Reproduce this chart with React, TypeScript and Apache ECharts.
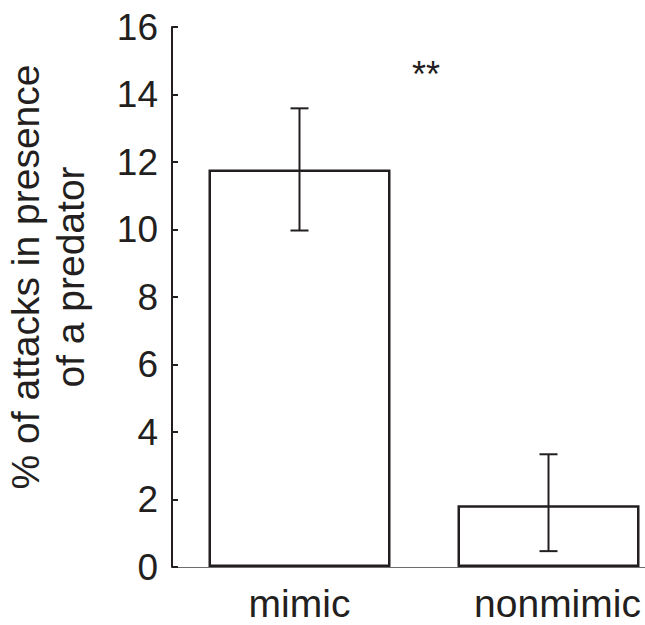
import React, { useEffect, useRef } from "react";
import * as echarts from "echarts";

const categories = ["mimic", "nonmimic"];
const meanValues = [11.78, 1.83];
const errLow = [9.97, 0.47];
const errHigh = [13.59, 3.34];
const yTicks = { min: 0, max: 16, interval: 2 };
const yTitle = "% of attacks in presence\nof a predator";
const significance = "**";

const INK = "#231f20";
const FONT = "'Liberation Sans', Arial, Helvetica, sans-serif";

export default function App() {
  const ref = useRef<HTMLDivElement>(null);
  useEffect(() => {
    document.body.style.margin = "0";
    if (!ref.current) return;
    const chart = echarts.init(ref.current, undefined, { renderer: "svg" });
    chart.setOption({
      animation: false,
      backgroundColor: "#ffffff",
      textStyle: { fontFamily: FONT },
      grid: {
        left: 175,
        width: 498,
        top: 27,
        height: 540,
        outerBoundsMode: "none",
        containLabel: false,
      },
      xAxis: {
        type: "category",
        data: categories.map((c, i) =>
          i === 1 ? { value: c, textStyle: { padding: [0, 0, 0, 18] } } : c
        ),
        axisLine: { lineStyle: { color: "#6d6d6d", width: 1 } },
        axisTick: {
          inside: true,
          alignWithLabel: true,
          length: 7,
          lineStyle: { color: "#6d6d6d", width: 1.5 },
        },
        axisLabel: {
          color: INK,
          fontSize: 39,
          fontFamily: FONT,
          margin: 21,
          lineHeight: 30,
        },
      },
      yAxis: {
        type: "value",
        min: yTicks.min,
        max: yTicks.max,
        interval: yTicks.interval,
        offset: 3,
        splitLine: { show: false },
        axisLine: { show: true, lineStyle: { color: INK, width: 2 } },
        axisTick: { show: true, inside: true, length: 6, lineStyle: { color: INK, width: 2 } },
        axisLabel: {
          color: INK,
          fontSize: 37,
          fontFamily: FONT,
          margin: 14,
          padding: [0, 0, 8, 0],
        },
        name: yTitle,
        nameLocation: "middle",
        nameRotate: 90,
        nameGap: 79,
        nameTextStyle: {
          color: INK,
          fontSize: 39,
          fontFamily: FONT,
          lineHeight: 45,
          padding: [0, 0, 0, 40],
        },
      },
      series: [
        {
          type: "bar",
          data: meanValues,
          barWidth: 182,
          itemStyle: { color: "#ffffff", borderColor: INK, borderWidth: 2.5 },
        },
        {
          type: "custom",
          data: categories.map((_, i) => [i, errLow[i], errHigh[i]]),
          encode: { x: 0, y: [1, 2] },
          z: 5,
          renderItem: (params: any, api: any) => {
            const x = api.value(0);
            const lo = api.coord([x, api.value(1)]);
            const hi = api.coord([x, api.value(2)]);
            const half = 9;
            const style = { stroke: INK, lineWidth: 2 };
            return {
              type: "group",
              children: [
                { type: "line", shape: { x1: lo[0], y1: lo[1], x2: hi[0], y2: hi[1] }, style },
                { type: "line", shape: { x1: hi[0] - half, y1: hi[1], x2: hi[0] + half, y2: hi[1] }, style },
                { type: "line", shape: { x1: lo[0] - half, y1: lo[1], x2: lo[0] + half, y2: lo[1] }, style },
              ],
            };
          },
        },
      ],
      graphic: [
        {
          type: "text",
          left: 412,
          top: 56,
          style: { text: significance, fill: INK, fontSize: 36, fontFamily: FONT },
        },
      ],
    });
    return () => chart.dispose();
  }, []);
  return <div ref={ref} style={{ width: 645, height: 625 }} />;
}
